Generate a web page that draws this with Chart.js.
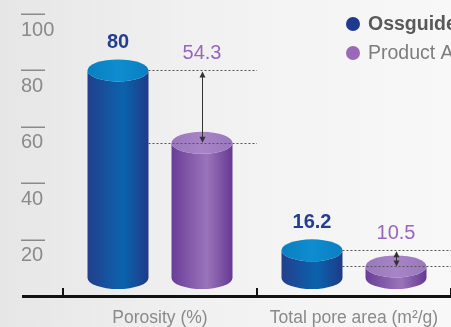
<!DOCTYPE html>
<html>
<head>
<meta charset="utf-8">
<script src="https://cdn.jsdelivr.net/npm/chart.js@4.4.0/dist/chart.umd.min.js"></script>
<style>
  html, body { margin: 0; padding: 0; }
  body {
    width: 451px; height: 327px; overflow: hidden;
    background: linear-gradient(90deg, #e6e6e6 0%, #f1f1f1 45%, #f8f8f8 100%);
  }
  canvas { display: block; }
</style>
</head>
<body>
<canvas id="myChart" width="451" height="327"></canvas>
<script>
// chart data
const categories = ['Porosity (%)', 'Total pore area (m²/g)'];
const seriesNames = ['Ossguide', 'Product A'];
const ossguide = [80, 16.2];
const productA = [54.3, 10.5];
const yTicks = [20, 40, 60, 80, 100];

const FONT = '"Liberation Sans", Arial, Helvetica, sans-serif';

const looks = [
  { edge: '#233f8d', mid: '#0a63ad', edge2: '#1f3a88', top1: '#0a7fc1', top2: '#0d8dd0',
    label: '#243f8e', legend: '#1f3a8f' },
  { edge: '#6a3d97', mid: '#9a74ba', edge2: '#663993', top1: '#9b78bd', top2: '#a684c6',
    label: '#9a65bd', legend: '#9a6ab8' }
];

function drawCylinder(ctx, cx, top, base, w, ry, look) {
  const rx = w / 2;
  const grad = ctx.createLinearGradient(cx - rx, 0, cx + rx, 0);
  grad.addColorStop(0, look.edge);
  grad.addColorStop(0.58, look.mid);
  grad.addColorStop(1, look.edge2);
  ctx.beginPath();
  ctx.moveTo(cx - rx, top);
  ctx.lineTo(cx - rx, base);
  ctx.ellipse(cx, base, rx, ry, 0, Math.PI, 0, true);
  ctx.lineTo(cx + rx, top);
  ctx.ellipse(cx, top, rx, ry, 0, 0, Math.PI, false);
  ctx.closePath();
  ctx.fillStyle = grad;
  ctx.fill();

  const tg = ctx.createLinearGradient(cx - rx, 0, cx + rx, 0);
  tg.addColorStop(0, look.top1);
  tg.addColorStop(0.5, look.top2);
  tg.addColorStop(1, look.top1);
  ctx.beginPath();
  ctx.ellipse(cx, top, rx, ry, 0, 0, Math.PI * 2);
  ctx.fillStyle = tg;
  ctx.fill();
}

function dotted(ctx, x1, x2, y) {
  ctx.save();
  ctx.strokeStyle = '#555';
  ctx.lineWidth = 1;
  ctx.setLineDash([2, 2]);
  ctx.beginPath();
  ctx.moveTo(x1, Math.round(y) + 0.5);
  ctx.lineTo(x2, Math.round(y) + 0.5);
  ctx.stroke();
  ctx.restore();
}

function arrow(ctx, x, y1, y2) {
  const h = 6, hw = 3;
  x = Math.round(x) + 0.5;
  ctx.save();
  ctx.strokeStyle = '#333';
  ctx.fillStyle = '#333';
  ctx.lineWidth = 1;
  ctx.beginPath();
  ctx.moveTo(x, y1 + h - 1);
  ctx.lineTo(x, y2 - h + 1);
  ctx.stroke();
  ctx.beginPath();
  ctx.moveTo(x, y1); ctx.lineTo(x - hw, y1 + h); ctx.lineTo(x + hw, y1 + h);
  ctx.closePath(); ctx.fill();
  ctx.beginPath();
  ctx.moveTo(x, y2); ctx.lineTo(x - hw, y2 - h); ctx.lineTo(x + hw, y2 - h);
  ctx.closePath(); ctx.fill();
  ctx.restore();
}

const cylinderPlugin = {
  id: 'cylinders',
  afterDatasetsDraw(chart) {
    const ctx = chart.ctx;
    const area = chart.chartArea;
    const xs = chart.scales.x;
    const base = area.bottom - 18;
    const ry = 11;
    const catW = (xs.right - xs.left) / categories.length;
    const m0 = chart.getDatasetMeta(0);
    const m1 = chart.getDatasetMeta(1);

    ctx.save();
    [m0, m1].forEach((meta, d) => {
      meta.data.forEach(el => {
        drawCylinder(ctx, el.x, el.y, base, el.width, ry, looks[d]);
      });
    });

    // comparison guides and value labels
    categories.forEach((c, i) => {
      const a = m0.data[i], b = m1.data[i];
      const edge = xs.left + catW * (i + 1);
      dotted(ctx, a.x + a.width / 2, edge, a.y);
      dotted(ctx, a.x + a.width / 2, edge, b.y);
      arrow(ctx, b.x, a.y + 1, b.y);

      ctx.textAlign = 'center';
      ctx.textBaseline = 'middle';
      ctx.font = 'bold 20px ' + FONT;
      ctx.fillStyle = looks[0].label;
      ctx.fillText(String(ossguide[i]), a.x, a.y - 28);
      ctx.font = '20px ' + FONT;
      ctx.fillStyle = looks[1].label;
      ctx.fillText(String(productA[i]), b.x, a.y - 17);
    });
    ctx.restore();
  },
  afterDraw(chart) {
    const ctx = chart.ctx;
    const area = chart.chartArea;
    const xs = chart.scales.x;
    const ys = chart.scales.y;
    ctx.save();

    // y tick overlines
    ctx.strokeStyle = '#8a8a8a';
    ctx.lineWidth = 1.5;
    ys.ticks.forEach(t => {
      const y = Math.round(ys.getPixelForValue(t.value)) + 0.25;
      ctx.beginPath();
      ctx.moveTo(ys.left, y);
      ctx.lineTo(ys.left + 24, y);
      ctx.stroke();
    });

    // x axis line with upward ticks
    ctx.fillStyle = '#111';
    ctx.fillRect(ys.left + 1, area.bottom - 1, chart.width, 3);
    const catW = (xs.right - xs.left) / categories.length;
    for (let k = 0; k <= categories.length; k++) {
      const x = Math.round(xs.left + catW * k);
      ctx.fillRect(x - 1, area.bottom - 8, 2, 8);
    }

    // legend
    ctx.textAlign = 'left';
    ctx.textBaseline = 'middle';
    const rows = [24, 53];
    chart.data.datasets.forEach((ds, d) => {
      ctx.fillStyle = looks[d].legend;
      ctx.beginPath();
      ctx.arc(353, rows[d], 7, 0, Math.PI * 2);
      ctx.fill();
      ctx.font = (d === 0 ? 'bold ' : '') + '19.5px ' + FONT;
      ctx.fillStyle = d === 0 ? '#595959' : '#7d7d7d';
      ctx.fillText(ds.label, 368, rows[d] + 1);
    });
    ctx.restore();
  }
};

const hidden = 'rgba(0,0,0,0)';
const data = {
  labels: categories,
  datasets: [
    { label: seriesNames[0], data: ossguide, backgroundColor: hidden, borderColor: hidden },
    { label: seriesNames[1], data: productA, backgroundColor: hidden, borderColor: hidden }
  ]
};

const config = {
  type: 'bar',
  data: data,
  options: {
    responsive: false,
    animation: false,
    devicePixelRatio: 1,
    events: [],
    layout: { padding: { left: 21, top: 14, right: 0, bottom: 0 } },
    datasets: {
      bar: {
        borderWidth: 0,
        categoryPercentage: 0.866,
        barPercentage: 0.726
      }
    },
    scales: {
      x: {
        grid: { display: false },
        border: { display: false },
        ticks: {
          color: '#8a8a8a',
          font: { family: FONT, size: 17.5 },
          padding: 4,
          maxRotation: 0
        },
        afterFit: s => { s.height = 31; s.paddingLeft = 0; s.paddingRight = 0; }
      },
      y: {
        min: 0,
        max: 100,
        grid: { display: false },
        border: { display: false },
        afterBuildTicks: s => { s.ticks = yTicks.map(v => ({ value: v })); },
        ticks: {
          color: '#8a8a8a',
          font: { family: FONT, size: 20 },
          crossAlign: 'far',
          labelOffset: 16,
          padding: 8
        },
        afterFit: s => { s.width = 42; s.paddingTop = 0; s.paddingBottom = 0; }
      }
    },
    plugins: {
      legend: { display: false },
      tooltip: { enabled: false },
      colors: { enabled: false }
    }
  },
  plugins: [cylinderPlugin]
};

const myChart = new Chart(document.getElementById('myChart'), config);
</script>
</body>
</html>
